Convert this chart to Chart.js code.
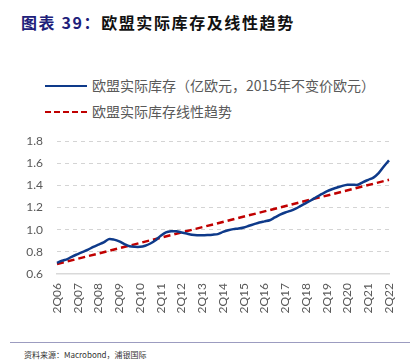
<!DOCTYPE html>
<html><head><meta charset="utf-8">
<script src="https://cdn.jsdelivr.net/npm/chart.js@4.4.0/dist/chart.umd.min.js"></script>
<style>
body{margin:0;width:413px;height:363px;background:#fff;position:relative;overflow:hidden;font-family:"Noto Sans CJK SC",sans-serif;}
#title{position:absolute;left:21px;top:12px;font-size:16px;font-weight:bold;color:#111;letter-spacing:1.6px;white-space:nowrap;line-height:20px;}
#title .n{color:#20207a;}
.leg{position:absolute;left:45px;font-size:14px;color:#595959;white-space:nowrap;line-height:18px;}
.leg .ln{display:inline-block;width:42px;height:0;vertical-align:middle;margin-right:5px;position:relative;top:-1px;}
#l1{top:76px;} #l1 .ln{border-top:2.5px solid #0e3a8a;}
#l2{top:102px;} #l2 .ln{border-top:2.5px dashed #c00000;}
#rule{position:absolute;left:10px;right:3px;top:342px;height:0;border-top:1.5px solid #9c9cc0;}
#src{position:absolute;left:24px;top:349px;font-size:8px;color:#333;white-space:nowrap;line-height:11px;}
#wrap{position:absolute;left:0;top:125px;width:413px;height:200px;}
</style></head><body>
<div id="title"><span class="n">图表 39：</span>欧盟实际库存及线性趋势</div>
<div class="leg" id="l1"><span class="ln"></span>欧盟实际库存（亿欧元，2015年不变价欧元）</div>
<div class="leg" id="l2"><span class="ln"></span>欧盟实际库存线性趋势</div>
<div id="wrap"><canvas id="c" width="413" height="200"></canvas></div>
<div id="rule"></div>
<div id="src">资料来源：Macrobond，浦银国际</div>
<script>
const quarters = [];
for (let y = 6; y <= 22; y++) {
  for (let q = 1; q <= 4; q++) {
    const lab = q + 'Q' + String(y).padStart(2, '0');
    if ((y === 6 && q < 2) || (y === 22 && q > 2)) continue;
    quarters.push(lab);
  }
}
const inventory = [
  0.70,0.72,0.735,0.76, 0.78,0.80,0.82,0.845, 0.865,0.885,0.915,0.91,
  0.895,0.87,0.85,0.845, 0.845,0.855,0.875,0.905, 0.945,0.975,0.985,0.985,
  0.975,0.965,0.955,0.95, 0.95,0.952,0.955,0.96, 0.98,0.995,1.005,1.01,
  1.02,1.035,1.05,1.065, 1.075,1.085,1.11,1.135, 1.155,1.17,1.19,1.215,
  1.24,1.265,1.295,1.32, 1.345,1.365,1.38,1.395, 1.405,1.405,1.405,1.43,
  1.45,1.47,1.51,1.57, 1.625
];
const trendStart = 0.69, trendEnd = 1.45;
const yTicks = [0.6,0.8,1.0,1.2,1.4,1.6,1.8];

new Chart(document.getElementById('c'), {
  type: 'line',
  data: {
    labels: quarters,
    datasets: [
      {label:'欧盟实际库存', data: inventory, borderColor:'#0e3a8a', borderWidth:2.5, pointRadius:0, tension:0.3, fill:false},
      {label:'趋势', data: [{x:quarters[0], y:trendStart},{x:quarters[quarters.length-1], y:trendEnd}], borderColor:'#c00000', borderWidth:2.5, borderDash:[7,4], pointRadius:0, fill:false}
    ]
  },
  options: {
    responsive:false, animation:false, devicePixelRatio:1,
    layout:{padding:{left:0,right:24,top:16,bottom:0}},
    plugins:{legend:{display:false}, tooltip:{enabled:false}},
    scales:{
      x:{
        offset:false,
        afterFit:function(ax){ ax.height = 51; },
        grid:{display:false, drawTicks:false},
        border:{display:true,color:'#d9d9d9',width:1.5},
        ticks:{
          autoSkip:false, maxRotation:90, minRotation:90, padding:9,
          color:'#595959', font:{family:'Lato', size:12},
          callback:function(v,i){ const l=quarters[i]; return l.startsWith('2Q') ? l : null; }
        }
      },
      y:{
        min:0.6, max:1.8,
        afterFit:function(ax){ ax.width = 57; ax.paddingTop = 0; ax.paddingBottom = 0; },
        afterBuildTicks:function(ax){ ax.ticks = yTicks.map(v=>({value:v})); },
        grid:{color:function(ctx){ return ctx.tick && ctx.tick.value===0.6 ? 'rgba(0,0,0,0)' : '#d4d4d4'; }, lineWidth:1, drawTicks:false},
        border:{display:false, dash:[4,4]},
        ticks:{padding:14, color:'#595959', font:{family:'Lato', size:12}, callback:v=>v.toFixed(1)}
      }
    }
  }
});
</script>
</body></html>
